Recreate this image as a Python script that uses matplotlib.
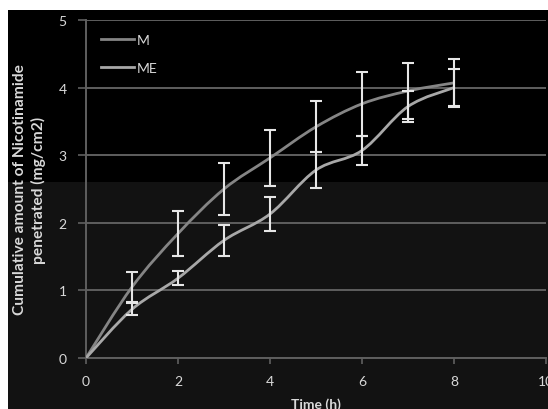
import matplotlib
matplotlib.use("Agg")
import matplotlib.pyplot as plt
import numpy as np
from matplotlib.path import Path
from matplotlib.patches import PathPatch, Rectangle
from matplotlib.lines import Line2D

plt.rcParams['font.family'] = ['Lato', 'DejaVu Sans']

time_h = [0, 1, 2, 3, 4, 5, 6, 7, 8]
m_mean = [0, 1.05, 1.84, 2.50, 2.96, 3.42, 3.76, 3.95, 4.07]
m_err = [0, 0.22, 0.33, 0.38, 0.41, 0.38, 0.47, 0.41, 0.36]
me_mean = [0, 0.72, 1.18, 1.74, 2.13, 2.78, 3.07, 3.72, 4.00]
me_err = [0, 0.09, 0.10, 0.23, 0.25, 0.27, 0.21, 0.23, 0.27]
series_names = ['M', 'ME']

fg = '#d9d9d9'
grid_c = '#5f5f5f'
colors = ['#858585', '#a8a8a8']


def smooth_path(xs, ys):
    # cubic bezier through every point, Excel-style smoothed line
    pts = np.column_stack([xs, ys]).astype(float)
    n = len(pts)
    verts = [pts[0]]
    codes = [Path.MOVETO]
    for i in range(n - 1):
        p0 = pts[max(i - 1, 0)]
        p1 = pts[i]
        p2 = pts[i + 1]
        p3 = pts[min(i + 2, n - 1)]
        c1 = p1 + (p2 - p0) / 6.0
        c2 = p2 - (p3 - p1) / 6.0
        verts += [c1, c2, p2]
        codes += [Path.CURVE4] * 3
    return Path(verts, codes)


fig = plt.figure(figsize=(5.48, 4.10), dpi=100, facecolor='white')
# dark panel behind the chart
fig.patches.append(Rectangle((8 / 548, 0), 1, 1 - 11 / 410, transform=fig.transFigure,
                             facecolor='black', edgecolor='none', zorder=-2))
fig.patches.append(Rectangle((8 / 548, 0), 1, 1 - 183 / 410, transform=fig.transFigure,
                             facecolor='#121212', edgecolor='none', zorder=-1))

ax = fig.add_axes([86 / 548, 1 - 359 / 410, 460 / 548, 338 / 410])
ax.set_facecolor('none')
ax.set_xlim(0, 10)
ax.set_ylim(0, 5)
ax.set_xticks([0, 2, 4, 6, 8, 10])
ax.set_yticks([0, 1, 2, 3, 4, 5])
ax.yaxis.grid(True, color=grid_c, linewidth=1.4)
ax.set_axisbelow(True)
for s in ['top', 'right']:
    ax.spines[s].set_visible(False)
for s in ['left', 'bottom']:
    ax.spines[s].set_color(grid_c)
    ax.spines[s].set_linewidth(1.4)
ax.tick_params(axis='both', colors=grid_c, labelcolor=fg, labelsize=10, width=1.2)
ax.tick_params(axis='y', length=6, pad=8)
ax.tick_params(axis='x', length=4, pad=8)

handles = []
for mean, err, col, name in zip([m_mean, me_mean], [m_err, me_err], colors, series_names):
    ax.add_patch(PathPatch(smooth_path(time_h, mean), facecolor='none', edgecolor=col,
                           linewidth=2.0, zorder=3))
    ax.errorbar(time_h[1:], mean[1:], yerr=err[1:], fmt='none', ecolor='#e6e6e6',
                elinewidth=1.5, capsize=4, capthick=1.5, zorder=4)
    handles.append(Line2D([], [], color=col, linewidth=2.0, label=name))

leg = ax.legend(handles=handles, loc='upper left', bbox_to_anchor=(0.005, 0.997),
                frameon=False, handlelength=2.4, handletextpad=0.2, labelspacing=1.2,
                fontsize=10)
for t in leg.get_texts():
    t.set_color(fg)

ax.set_xlabel('Time (h)', color=fg, fontsize=10, fontweight='bold')
ax.xaxis.set_label_coords(0.5, -0.115)
ax.set_ylabel('Cumulative amount of Nicotinamide\npenetrated (mg/cm2)', color=fg,
              fontsize=11.2, fontweight='bold', linespacing=1.3)
ax.yaxis.set_label_coords(-0.088, 0.5)

fig.savefig('out.png', dpi=100, facecolor=fig.get_facecolor())
